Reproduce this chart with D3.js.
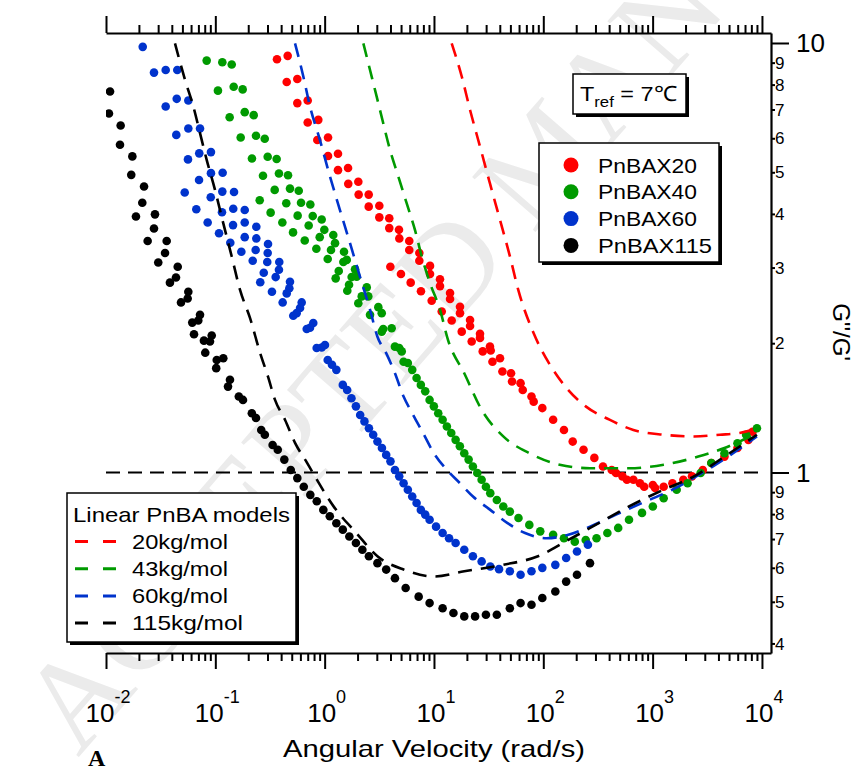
<!DOCTYPE html>
<html>
<head>
<meta charset="utf-8">
<script src="https://cdn.jsdelivr.net/npm/d3@7"></script>
<style>
  body { margin: 0; background: #fff; }
  text { font-family: Arial, "Liberation Sans", sans-serif; }
</style>
</head>
<body>
<svg id="chart" width="858" height="766"></svg>
<script>
// all values as [log10(omega rad/s), log10(G''/G')]

// measured data, PnBAX20
var pnbax20 = [
  [-0.436,0.962],[-0.338,0.970],[-0.347,0.909],[-0.250,0.916],[-0.250,0.860],[-0.155,0.866],
  [-0.155,0.815],[-0.058,0.821],[-0.067,0.774],[0.031,0.780],[0.031,0.737],[0.122,0.742],
  [0.122,0.704],[0.214,0.709],[0.216,0.672],[0.308,0.677],[0.311,0.647],[0.403,0.647],
  [0.403,0.619],[0.500,0.621],[0.500,0.594],[0.591,0.592],[0.591,0.569],[0.680,0.565],
  [0.683,0.545],[0.774,0.539],[0.774,0.518],[0.866,0.511],[0.866,0.493],[0.964,0.481],
  [0.964,0.462],[0.601,0.479],[0.698,0.462],[0.787,0.442],[0.881,0.422],[0.979,0.400],
  [1.055,0.450],[1.055,0.434],[1.147,0.418],[1.147,0.404],[1.071,0.375],[1.162,0.354],
  [1.238,0.386],[1.238,0.371],[1.330,0.355],[1.330,0.341],[1.254,0.328],[1.345,0.305],
  [1.421,0.323],[1.421,0.313],[1.512,0.293],[1.519,0.284],[1.446,0.282],[1.604,0.266],
  [1.535,0.258],[1.626,0.235],[1.705,0.231],[1.714,0.212],[1.792,0.208],[1.812,0.192],
  [1.892,0.177],[1.912,0.165],[1.991,0.150],[2.090,0.123],[2.189,0.099],[2.269,0.072],
  [2.368,0.053],[2.467,0.034],[2.546,0.014],[2.626,0.006],[2.665,-0.001],[2.724,-0.009],
  [2.765,-0.017],[2.824,-0.017],[2.884,-0.025],[2.923,-0.033],[3.002,-0.029],[3.023,-0.036],
  [3.101,-0.033],[3.181,-0.025],[3.281,-0.017],[3.360,-0.009],[3.459,0.006],[3.537,0.022],
  [3.657,0.037],[3.776,0.057],[3.876,0.076],[3.914,0.095]
];

// measured data, PnBAX40
var pnbax40 = [
  [-1.079,0.959],[-0.936,0.955],[-0.850,0.950],[-0.976,0.889],[-0.832,0.898],[-0.750,0.892],
  [-0.869,0.827],[-0.731,0.839],[-0.649,0.832],[-0.768,0.780],[-0.628,0.784],[-0.548,0.777],
  [-0.665,0.731],[-0.521,0.735],[-0.439,0.730],[-0.564,0.691],[-0.418,0.696],[-0.335,0.692],
  [-0.594,0.634],[-0.457,0.658],[-0.317,0.661],[-0.237,0.656],[-0.494,0.605],[-0.351,0.627],
  [-0.216,0.628],[-0.131,0.624],[-0.387,0.582],[-0.247,0.598],[-0.109,0.597],[-0.027,0.589],
  [-0.289,0.559],[-0.146,0.575],[-0.003,0.565],[0.079,0.553],[-0.182,0.540],[-0.045,0.548],
  [0.095,0.534],[0.177,0.514],[-0.076,0.521],[0.058,0.518],[0.202,0.495],[0.028,0.497],
  [0.171,0.490],[0.278,0.473],[0.129,0.469],[0.247,0.455],[0.293,0.456],[0.101,0.452],
  [0.223,0.437],[0.385,0.431],[0.207,0.423],[0.339,0.410],[0.399,0.410],[0.308,0.394],
  [0.491,0.385],[0.522,0.371],[0.415,0.367],[0.536,0.334],[0.613,0.336],[0.522,0.328],
  [0.643,0.293],[0.705,0.282],[0.682,0.290],[0.722,0.258],[0.761,0.255],[0.801,0.239],
  [0.841,0.220],[0.880,0.204],[0.920,0.189],[0.960,0.169],[0.999,0.154],[1.039,0.138],
  [1.079,0.123],[1.118,0.107],[1.158,0.092],[1.198,0.076],[1.237,0.061],[1.277,0.045],
  [1.317,0.030],[1.356,0.014],[1.396,-0.001],[1.436,-0.017],[1.475,-0.033],[1.515,-0.048],
  [1.575,-0.064],[1.634,-0.079],[1.694,-0.091],[1.773,-0.106],[1.872,-0.122],[1.972,-0.137],
  [2.090,-0.145],[2.189,-0.153],[2.288,-0.161],[2.388,-0.157],[2.487,-0.153],[2.586,-0.141],
  [2.685,-0.129],[2.784,-0.110],[2.903,-0.094],[3.002,-0.079],[3.101,-0.060],[3.220,-0.040],
  [3.320,-0.025],[3.439,-0.001],[3.537,0.022],[3.657,0.045],[3.776,0.068],[3.855,0.088],
  [3.954,0.103]
];

// measured data, PnBAX60
var pnbax60 = [
  [-1.664,0.991],[-1.561,0.931],[-1.454,0.937],[-1.348,0.937],[-1.353,0.870],[-1.247,0.866],
  [-1.454,0.852],[-1.357,0.786],[-1.247,0.801],[-1.140,0.801],[-1.250,0.729],[-1.147,0.743],
  [-1.040,0.746],[-1.149,0.681],[-1.040,0.697],[-0.933,0.698],[-1.280,0.652],[-1.042,0.641],
  [-0.936,0.654],[-0.829,0.653],[-1.174,0.613],[-0.939,0.606],[-0.836,0.614],[-0.731,0.611],
  [-1.070,0.582],[-0.838,0.576],[-0.731,0.582],[-0.625,0.572],[-0.966,0.557],[-0.863,0.535],
  [-0.731,0.548],[-0.625,0.545],[-0.518,0.532],[-0.762,0.514],[-0.631,0.518],[-0.521,0.511],
  [-0.658,0.493],[-0.525,0.490],[-0.415,0.490],[-0.557,0.465],[-0.418,0.472],[-0.589,0.443],
  [-0.448,0.455],[-0.482,0.421],[-0.317,0.444],[-0.323,0.429],[-0.347,0.417],[-0.384,0.396],
  [-0.210,0.396],[-0.225,0.383],[-0.256,0.371],[-0.287,0.365],[-0.104,0.348],[-0.134,0.337],
  [-0.164,0.334],[0.003,0.297],[-0.027,0.291],[-0.073,0.290],[0.028,0.262],[0.067,0.251],
  [0.107,0.239],[0.166,0.204],[0.206,0.192],[0.245,0.173],[0.286,0.154],[0.325,0.134],
  [0.364,0.119],[0.405,0.103],[0.444,0.088],[0.483,0.072],[0.524,0.057],[0.563,0.041],
  [0.602,0.026],[0.643,0.006],[0.682,-0.009],[0.722,-0.025],[0.761,-0.040],[0.801,-0.056],
  [0.841,-0.071],[0.880,-0.087],[0.920,-0.098],[0.960,-0.110],[1.019,-0.126],[1.079,-0.141],
  [1.138,-0.153],[1.198,-0.164],[1.277,-0.180],[1.356,-0.195],[1.436,-0.207],[1.515,-0.219],
  [1.595,-0.225],[1.694,-0.230],[1.792,-0.238],[1.892,-0.230],[1.991,-0.222],[2.110,-0.215],
  [2.209,-0.199],[2.308,-0.184],[2.408,-0.168]
];

// measured data, PnBAX115
var pnbax115 = [
  [-1.963,0.887],[-1.973,0.836],[-1.866,0.808],[-1.872,0.763],[-1.759,0.736],[-1.769,0.693],
  [-1.652,0.666],[-1.668,0.628],[-1.726,0.596],[-1.552,0.601],[-1.561,0.568],[-1.619,0.539],
  [-1.445,0.539],[-1.460,0.511],[-1.522,0.489],[-1.344,0.479],[-1.360,0.454],[-1.415,0.442],
  [-1.247,0.421],[-1.253,0.405],[-1.314,0.396],[-1.140,0.367],[-1.156,0.354],[-1.211,0.349],
  [-1.033,0.319],[-1.049,0.305],[-1.104,0.307],[-1.195,0.322],[-1.092,0.279],[-0.927,0.266],
  [-0.987,0.262],[-0.992,0.243],[-0.866,0.216],[-0.884,0.200],[-0.785,0.177],[-0.747,0.169],
  [-0.666,0.138],[-0.628,0.127],[-0.580,0.099],[-0.547,0.088],[-0.476,0.064],[-0.429,0.053],
  [-0.369,0.030],[-0.310,0.006],[-0.250,-0.013],[-0.191,-0.033],[-0.131,-0.052],[-0.072,-0.067],
  [-0.012,-0.087],[0.047,-0.102],[0.107,-0.118],[0.166,-0.133],[0.226,-0.149],[0.286,-0.164],
  [0.345,-0.180],[0.405,-0.195],[0.483,-0.211],[0.563,-0.226],[0.643,-0.246],[0.741,-0.269],
  [0.860,-0.289],[0.960,-0.304],[1.079,-0.316],[1.178,-0.327],[1.277,-0.335],[1.376,-0.335],
  [1.475,-0.331],[1.575,-0.331],[1.694,-0.316],[1.792,-0.304],[1.892,-0.308],[1.991,-0.292],
  [2.110,-0.277],[2.209,-0.254],[2.308,-0.238],[2.427,-0.211]
];

// linear PnBA model curves
var model20 = [
  [1.162,0.999],[1.254,0.922],[1.330,0.844],[1.421,0.759],[1.512,0.673],[1.604,0.588],
  [1.695,0.503],[1.771,0.425],[1.912,0.324],[2.070,0.247],[2.229,0.192],[2.388,0.154],
  [2.605,0.123],[2.824,0.099],[3.101,0.088],[3.378,0.084],[3.616,0.088],[3.795,0.092],
  [3.982,0.104]
];
var model43 = [
  [0.354,0.999],[0.415,0.937],[0.476,0.875],[0.536,0.813],[0.598,0.751],[0.674,0.689],
  [0.750,0.627],[0.826,0.565],[0.888,0.503],[0.964,0.441],[1.055,0.379],[1.128,0.309],
  [1.277,0.231],[1.436,0.146],[1.634,0.084],[1.872,0.045],[2.150,0.018],[2.427,0.010],
  [2.784,0.010],[3.101,0.018],[3.418,0.037],[3.657,0.057],[3.954,0.092]
];
var model60 = [
  [-0.271,0.999],[-0.195,0.922],[-0.134,0.852],[-0.043,0.774],[0.049,0.689],[0.140,0.611],
  [0.232,0.534],[0.323,0.456],[0.415,0.379],[0.483,0.316],[0.563,0.278],[0.643,0.231],
  [0.722,0.177],[0.801,0.138],[0.900,0.092],[0.999,0.045],[1.118,0.006],[1.238,-0.025],
  [1.357,-0.056],[1.515,-0.087],[1.673,-0.118],[1.833,-0.141],[2.031,-0.153],[2.229,-0.145],
  [2.427,-0.126],[2.665,-0.098],[2.903,-0.071],[3.181,-0.040],[3.498,0.006],[3.736,0.045],
  [3.954,0.084]
];
var model115 = [
  [-1.369,0.999],[-1.277,0.914],[-1.201,0.852],[-1.140,0.790],[-1.079,0.728],[-1.003,0.658],
  [-0.927,0.580],[-0.850,0.503],[-0.774,0.425],[-0.683,0.360],[-0.591,0.279],[-0.518,0.223],
  [-0.454,0.169],[-0.363,0.123],[-0.271,0.069],[-0.162,0.023],[-0.107,-0.001],[0.085,-0.080],
  [0.287,-0.140],[0.483,-0.195],[0.722,-0.226],[1.000,-0.242],[1.277,-0.230],[1.634,-0.215],
  [1.951,-0.195],[2.229,-0.157],[2.507,-0.118],[2.784,-0.079],[3.101,-0.040],[3.378,-0.009],
  [3.657,0.037],[3.954,0.088]
];

var sampleNames = ["PnBAX20", "PnBAX40", "PnBAX60", "PnBAX115"];
var modelNames = ["20kg/mol", "43kg/mol", "60kg/mol", "115kg/mol"];
var colors = ["#ff0000", "#009a00", "#0033cc", "#000000"];
var bottomDecades = [-2, -1, 0, 1, 2, 3, 4];
var rightMajor = [1, 10];
var rightMinor = [0.4, 0.5, 0.6, 0.7, 0.8, 0.9, 2, 3, 4, 5, 6, 7, 8, 9];

function unlog(arr) {
  return arr.map(function (d) { return [Math.pow(10, d[0]), Math.pow(10, d[1])]; });
}

var svg = d3.select("#chart");

// plot frame in pixels
var plotL = 106, plotR = 771, plotT = 33, plotB = 653;
var x = d3.scaleLog().domain([1e-2, 1.21e4]).range([plotL, plotR]);
var y = d3.scaleLog().domain([0.38, 10.55]).range([plotB, plotT]);

// watermark
svg.append("text")
  .attr("transform", "translate(78,758) rotate(-49)")
  .style("font-family", "'Liberation Serif', 'DejaVu Serif', serif")
  .attr("font-size", 128)
  .attr("fill", "#ebebeb")
  .text("ACCEPTED MANUSCRIPT");

svg.append("clipPath").attr("id", "plotClip")
  .append("rect")
  .attr("x", plotL).attr("y", plotT)
  .attr("width", plotR - plotL).attr("height", plotB - plotT);

var plot = svg.append("g").attr("clip-path", "url(#plotClip)");

// reference line at G''/G' = 1
plot.append("line")
  .attr("x1", x(1e-2)).attr("x2", x(1e4))
  .attr("y1", y(1)).attr("y2", y(1))
  .attr("stroke", "#000")
  .attr("stroke-width", 2)
  .attr("stroke-dasharray", "14,8");

// measured points
var samples = [pnbax20, pnbax40, pnbax60, pnbax115];
samples.forEach(function (s, i) {
  plot.append("g")
    .selectAll("circle")
    .data(unlog(s))
    .enter().append("circle")
    .attr("cx", function (d) { return x(d[0]); })
    .attr("cy", function (d) { return y(d[1]); })
    .attr("r", 4.3)
    .attr("fill", colors[i]);
});

// model curves
var line = d3.line()
  .x(function (d) { return x(d[0]); })
  .y(function (d) { return y(d[1]); })
  .curve(d3.curveMonotoneX);

var models = [model20, model43, model60, model115];
models.forEach(function (m, i) {
  plot.append("path")
    .attr("d", line(unlog(m)))
    .attr("fill", "none")
    .attr("stroke", colors[i])
    .attr("stroke-width", 2.6)
    .attr("stroke-dasharray", "14,9");
});

// axes
var xTicks = [];
bottomDecades.forEach(function (e) {
  for (var k = 1; k <= 9; k++) {
    var v = k * Math.pow(10, e);
    if (v <= 1.2e4) xTicks.push(v);
  }
});
function isDecade(v) {
  return Math.abs(Math.log10(v) - Math.round(Math.log10(v))) < 1e-6;
}

var xBottom = svg.append("g")
  .attr("transform", "translate(0," + plotB + ")")
  .call(d3.axisBottom(x).tickValues(xTicks).tickFormat("").tickSizeOuter(0));
xBottom.selectAll(".tick line")
  .attr("y2", function (d) { return isDecade(d) ? 16 : 8; });

var xTop = svg.append("g")
  .attr("transform", "translate(0," + plotT + ")")
  .call(d3.axisTop(x).tickValues(xTicks).tickFormat("").tickSizeOuter(0));
xTop.selectAll(".tick line")
  .attr("y2", function (d) { return isDecade(d) ? -17 : -8; });

var yRight = svg.append("g")
  .attr("transform", "translate(" + plotR + ",0)")
  .call(d3.axisRight(y).tickValues(rightMinor.concat(rightMajor)).tickFormat("").tickSizeOuter(0));
yRight.selectAll(".tick line")
  .attr("x2", function (d) { return rightMajor.indexOf(d) >= 0 ? 18 : 4; });

svg.selectAll(".domain").attr("stroke-width", 2.2).attr("stroke", "#000");
svg.selectAll(".tick line").attr("stroke-width", 2).attr("stroke", "#000");

// bottom tick labels 10^n
bottomDecades.forEach(function (e) {
  var t = svg.append("text")
    .attr("x", x(Math.pow(10, e)) + 2)
    .attr("y", 722)
    .attr("text-anchor", "middle")
    .attr("font-size", 26);
  t.append("tspan").text("10");
  t.append("tspan").attr("dy", -19).attr("font-size", 18).text(String(e));
});

// right tick labels
rightMinor.forEach(function (v) {
  svg.append("text")
    .attr("x", plotR + 4)
    .attr("y", y(v))
    .attr("dy", "0.36em")
    .attr("font-size", 17)
    .text(String(Math.round(v < 1 ? v * 10 : v)));
});
rightMajor.forEach(function (v) {
  svg.append("text")
    .attr("x", plotR + 25)
    .attr("y", y(v))
    .attr("dy", "0.36em")
    .attr("font-size", 26)
    .text(String(v));
});

// axis titles
svg.append("text")
  .attr("x", 283).attr("y", 757)
  .attr("font-size", 24)
  .attr("textLength", 302).attr("lengthAdjust", "spacingAndGlyphs")
  .text("Angular Velocity (rad/s)");

svg.append("text")
  .attr("transform", "translate(833,332) rotate(90)")
  .attr("text-anchor", "middle")
  .attr("font-size", 24)
  .text("G''/G'");

svg.append("text")
  .attr("x", 88).attr("y", 766)
  .style("font-family", "'Liberation Serif', serif")
  .attr("font-weight", "bold")
  .attr("font-size", 24)
  .text("A");

// framed boxes with a drop shadow
function box(x0, y0, w, h) {
  svg.append("rect").attr("x", x0 + 3).attr("y", y0 + 3).attr("width", w).attr("height", h)
    .attr("fill", "#000");
  svg.append("rect").attr("x", x0).attr("y", y0).attr("width", w).attr("height", h)
    .attr("fill", "#fff").attr("stroke", "#000").attr("stroke-width", 1.5);
}

// T_ref label
box(573, 74, 113, 40);
var tr = svg.append("text").attr("x", 580).attr("y", 101).attr("font-size", 21)
  .attr("textLength", 97).attr("lengthAdjust", "spacingAndGlyphs");
tr.append("tspan").text("T");
tr.append("tspan").attr("dy", 6).attr("font-size", 15).text("ref");
tr.append("tspan").attr("dy", -6).text(" = 7\u2103");

// sample legend
box(539, 143, 180, 119);
sampleNames.forEach(function (n, i) {
  var yy = 165 + i * 26.8;
  svg.append("circle").attr("cx", 571).attr("cy", yy).attr("r", 7.5).attr("fill", colors[i]);
  svg.append("text").attr("x", 598).attr("y", yy + 7.5)
    .attr("font-size", 21)
    .attr("textLength", i === 3 ? 114 : 99).attr("lengthAdjust", "spacingAndGlyphs")
    .text(n);
});

// model legend
box(67, 493, 229, 149);
svg.append("text").attr("x", 73).attr("y", 522)
  .attr("font-size", 21)
  .attr("textLength", 217).attr("lengthAdjust", "spacingAndGlyphs")
  .text("Linear PnBA models");
modelNames.forEach(function (n, i) {
  var yy = 541.5 + i * 27.2;
  svg.append("line").attr("x1", 75).attr("x2", 117).attr("y1", yy).attr("y2", yy)
    .attr("stroke", colors[i]).attr("stroke-width", 3)
    .attr("stroke-dasharray", "13,15");
  svg.append("text").attr("x", 132).attr("y", yy + 7)
    .attr("font-size", 21)
    .attr("textLength", i === 3 ? 111 : 96).attr("lengthAdjust", "spacingAndGlyphs")
    .text(n);
});
</script>
</body>
</html>
